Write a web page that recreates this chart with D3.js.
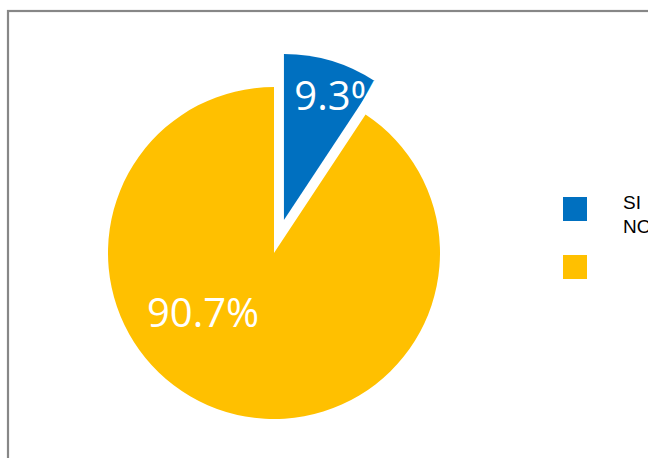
<!DOCTYPE html>
<html>
<head>
<meta charset="utf-8">
<script src="https://cdn.jsdelivr.net/npm/d3@7"></script>
<style>
  body { margin: 0; background: #fff; }
  svg { display: block; }
</style>
</head>
<body>
<svg id="chart" width="648" height="458"></svg>
<script>
// chart data
const categories = ["SI", "NO"];
const values = [9.3, 90.7];
const labels = ["9.3%", "90.7%"];
const colors = ["#0070C0", "#FFC000"];

const svg = d3.select("#chart");

// frame (cut at right / bottom like the original)
svg.append("rect")
  .attr("x", 8).attr("y", 11)
  .attr("width", 700).attr("height", 500)
  .attr("fill", "none")
  .attr("stroke", "#878787")
  .attr("stroke-width", 2.2);

const cx = 274, cy = 253, radius = 166;
const explode = 34.5;

const pie = d3.pie().sort(null).value(d => d)(values);
const arc = d3.arc().innerRadius(0).outerRadius(radius);

const g = svg.append("g").attr("transform", `translate(${cx},${cy})`);

// offsets for the data labels (Excel puts them where it likes)
const labelPos = [[55, -110], [-71, 74]];

pie.forEach((p, i) => {
  const mid = (p.startAngle + p.endAngle) / 2;
  const off = i === 0 ? explode : 0;
  const dx = off * Math.sin(mid), dy = -off * Math.cos(mid);
  const sg = g.append("g").attr("transform", `translate(${dx},${dy})`);
  sg.append("path")
    .attr("d", arc(p))
    .attr("fill", colors[i]);
  sg.append("text")
    .attr("x", labelPos[i][0])
    .attr("y", labelPos[i][1])
    .attr("text-anchor", "middle")
    .attr("font-family", "Open Sans, sans-serif")
    .attr("font-size", 40)
    .attr("fill", "#fff")
    .text(labels[i]);
});

// legend
const legend = svg.append("g").attr("transform", "translate(563,197)");
categories.forEach((c, i) => {
  legend.append("rect")
    .attr("x", 0).attr("y", i * 58)
    .attr("width", 24).attr("height", 24)
    .attr("fill", colors[i]);
  // ghost labels (white, as in the source)
  legend.append("text")
    .attr("x", 35).attr("y", i * 58 + 18)
    .attr("font-family", "Liberation Sans, Arial, sans-serif")
    .attr("font-size", 18)
    .attr("fill", "#fff")
    .text(c);
  legend.append("text")
    .attr("x", 60).attr("y", 12 + i * 24)
    .attr("font-family", "Liberation Sans, Arial, sans-serif")
    .attr("font-size", 19)
    .attr("fill", "#000")
    .text(c);
});
</script>
</body>
</html>
